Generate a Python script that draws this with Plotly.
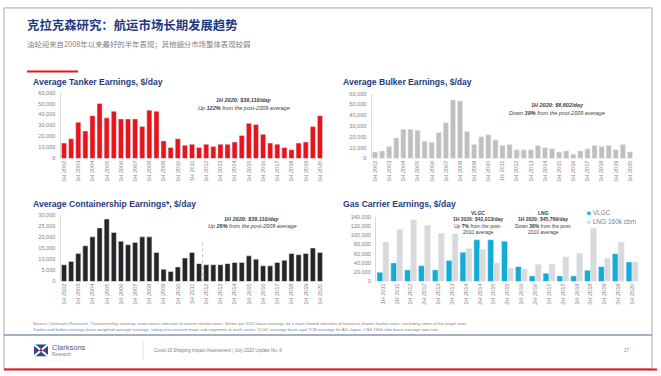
import plotly.graph_objects as go

W, H = 661, 376

# ---------------- data ----------------
half_years = [f"{h} {y}" for y in range(2002, 2021) for h in ("1H", "2H")][:-1]  # 1H 2002 .. 1H 2020
tick_half = [c for c in half_years if c.startswith("1H")]

tanker = [14000, 18000, 33000, 25000, 39000, 50000, 37000, 43000, 36000, 36000,
          36000, 29000, 44000, 43000, 16000, 10000, 18000, 12000, 13000, 10000,
          13000, 11000, 13000, 13000, 15000, 21000, 32000, 31000, 22000, 14000,
          13000, 10000, 8000, 14000, 15000, 29000, 39000]
bulker = [6000, 7000, 11000, 19000, 27000, 27000, 26000, 16000, 15000, 24000,
          33000, 54000, 53000, 25000, 13000, 20000, 22000, 17000, 12000, 13000,
          8000, 8000, 8000, 12000, 10000, 9000, 6000, 7000, 4000, 7000,
          9000, 12000, 11000, 12000, 8000, 13000, 6000]
container = [7500, 9000, 12500, 16000, 20000, 24000, 28000, 22000, 18000, 16500,
             17500, 20000, 20000, 13000, 5500, 4500, 6500, 10500, 13000, 8000,
             7500, 7500, 7500, 8000, 8500, 8500, 11500, 10000, 7000, 7000,
             8500, 9500, 12500, 12000, 12500, 15000, 13000]
gas_cats = [f"{h} {y}" for y in range(2011, 2021) for h in ("1H", "2H")][:-1]
vlgc = [20000, 40000, 25000, 34000, 25000, 45000, 63000, 90000, 90000, 87000,
        32000, 12000, 18000, 12000, 12000, 24000, 32000, 60000, 42000]
lng = [85000, 112000, 133000, 121000, 104000, 103000, 71000, 69000, 40000, 29000,
       27000, 37000, 37000, 53000, 61000, 115000, 50000, 85000, 42000]

# ---------------- styles ----------------
FONT = "Liberation Sans, Arial, sans-serif"
CJK = "Noto Sans CJK SC, sans-serif"
NAVY = "#1f3a80"
GREY = "#7f7f7f"
RED = "#e8141b"
BULK = "#bfbfbf"
BOX = "#262626"
CYAN = "#13acd6"
LNGC = "#d9d9d9"


def px(x):
    return x / W


def py(y):
    return 1 - y / H


fig = go.Figure()

fig.add_trace(go.Bar(x=half_years, y=tanker, marker_color=RED, width=0.72,
                     xaxis="x", yaxis="y", showlegend=False))
fig.add_trace(go.Bar(x=half_years, y=bulker, marker_color=BULK, width=0.72,
                     xaxis="x2", yaxis="y2", showlegend=False))
fig.add_trace(go.Bar(x=half_years, y=container, marker_color=BOX, width=0.72,
                     xaxis="x3", yaxis="y3", showlegend=False))
fig.add_trace(go.Bar(x=gas_cats, y=vlgc, marker_color=CYAN, width=0.43, offset=-0.43,
                     xaxis="x4", yaxis="y4", name="VLGC", showlegend=False))
fig.add_trace(go.Bar(x=gas_cats, y=lng, marker_color=LNGC, width=0.43, offset=0.0,
                     xaxis="x4", yaxis="y4", name="LNG 160k cbm", showlegend=False))

xtickfont = dict(family=FONT, size=5.6, color=GREY)
ytickfont = dict(family=FONT, size=5.6, color=GREY)


def xax(dom, anchor, cats, tv):
    return dict(domain=[px(dom[0]), px(dom[1])], anchor=anchor, type="category",
                categoryorder="array", categoryarray=cats,
                tickvals=tv, ticktext=tv, tickangle=-90, tickfont=xtickfont,
                showline=False, showgrid=False, ticks="", zeroline=False,
                range=[-0.5, len(cats) - 0.5], fixedrange=True)


def yax(dom, anchor, rmax, step):
    return dict(domain=[py(dom[1]), py(dom[0])], anchor=anchor, range=[0, rmax],
                tickvals=list(range(0, rmax + 1, step)), tickformat=",d",
                tickfont=ytickfont, showgrid=False, zeroline=False,
                showline=True, linecolor="#d9d9d9", linewidth=1, ticks="",
                ticklabelstandoff=3, fixedrange=True)


fig.update_layout(
    width=W, height=H, margin=dict(l=0, r=0, t=0, b=0),
    paper_bgcolor="white", plot_bgcolor="white", barmode="overlay",
    xaxis=xax((60.5, 323.5), "y", half_years, tick_half),
    yaxis=yax((91, 158), "x", 60000, 10000),
    xaxis2=xax((371.5, 633.5), "y2", half_years, tick_half),
    yaxis2=yax((92, 158), "x2", 60000, 10000),
    xaxis3=xax((60.5, 323.5), "y3", half_years, tick_half),
    yaxis3=yax((215, 283), "x3", 30000, 5000),
    xaxis4=xax((376, 639), "y4", gas_cats, gas_cats),
    yaxis4=yax((217, 283), "x4", 140000, 20000),
    font=dict(family=FONT),
)

ann = []


def txt(x, y, s, size, color=GREY, anchor="left", family=FONT):
    ann.append(dict(x=px(x), y=py(y), xref="paper", yref="paper", text=s,
                    showarrow=False, xanchor=anchor, yanchor="middle",
                    font=dict(family=family, size=size, color=color)))


# headings
txt(25, 22, "<b>克拉克森研究：航运市场长期发展趋势</b>", 12.4, NAVY, family=CJK)
txt(25, 41, "油轮迎来自2008年以来最好的半年表现；其他细分市场整体表现较弱", 7.4, GREY, family=CJK)

# chart titles
TS = 8.6
txt(31, 80, "<b>Average Tanker Earnings, $/day</b>", TS, NAVY)
txt(341, 80, "<b>Average Bulker Earnings, $/day</b>", TS, NAVY)
txt(31, 204, "<b>Average Containership Earnings*, $/day</b>", TS, NAVY)
txt(341, 204, "<b>Gas Carrier Earnings, $/day</b>", TS, NAVY)

# in-chart notes
DK = "#404040"
txt(244, 99, "<b><i>1H 2020: $39,110/day</i></b>", 5.5, DK, "center")
txt(244, 107, "<i>Up <b>122%</b> from the post-2009 average</i>", 5.5, DK, "center")
txt(557, 104, "<b><i>1H 2020: $6,602/day</i></b>", 5.5, DK, "center")
txt(557, 112, "<i>Down <b>39%</b> from the post-2009 average</i>", 5.5, DK, "center")
txt(252, 219, "<b><i>1H 2020: $39,110/day</i></b>", 5.5, DK, "center")
txt(252, 227, "<i>Up <b>26%</b> from the post-2009 average</i>", 5.5, DK, "center")

txt(478, 213, "<b>VLGC</b>", 5, DK, "center")
txt(478, 220, "<b>1H 2020: $42,013/day</b>", 5, DK, "center")
txt(478, 227, "Up <b>7%</b> from the post-", 5, DK, "center")
txt(478, 233, "2010 average", 5, DK, "center")
txt(543, 213, "<b>LNG</b>", 5, DK, "center")
txt(543, 220, "<b>1H 2020: $45,769/day</b>", 5, DK, "center")
txt(543, 227, "Down <b>38%</b> from the post-", 5, DK, "center")
txt(543, 233, "2010 average", 5, DK, "center")

# legend
txt(585, 213, f"<span style='color:{CYAN}'>■</span> VLGC", 6.5, GREY)
txt(585, 222, f"<span style='color:{LNGC}'>■</span> LNG 160k cbm", 6.5, GREY)

# source notes
txt(31, 326, "Source: Clarksons Research. *Containership earnings series basis selection of charter market sizes. Series pre 2012 basis earnings for a more limited selection of historical charter market sizes, excluding some of the larger units.", 4.3, GREY)
txt(31, 332, "Tanker and bulker earnings basis weighted average earnings, taking into account major sub-segments in each sector. VLGC earnings basis spot TCE earnings for AG-Japan. LNG 160k cbm basis average spot rate.", 4.3, GREY)

# footer
txt(50, 350, "Clarksons", 7.5, "#4a5a8a")
txt(50, 357, "Research", 4.5, GREY)
txt(152, 353, "Covid-19 Shipping Impact Assessment | July 2020 Update No. 6", 4.5, GREY)
txt(622, 353, "17", 4.5, GREY)

fig.update_layout(annotations=ann)

shapes = [
    # slide frame
    dict(type="rect", xref="paper", yref="paper", x0=px(4), x1=px(652), y0=py(372), y1=py(5),
         line=dict(color="#a6a6a6", width=1), fillcolor="rgba(0,0,0,0)", layer="below"),
    # red accent
    dict(type="line", xref="paper", yref="paper", x0=px(27), x1=px(78), y0=py(69.5), y1=py(69.5),
         line=dict(color=RED, width=2)),
    # divider
    dict(type="line", xref="paper", yref="paper", x0=px(4), x1=px(652), y0=py(337.5), y1=py(337.5),
         line=dict(color="#8497b0", width=1.5)),
    # footer separator
    dict(type="line", xref="paper", yref="paper", x0=px(143), x1=px(143), y0=py(344), y1=py(362),
         line=dict(color="#d9d9d9", width=0.8)),
    # bottom red line
    dict(type="line", xref="paper", yref="paper", x0=px(4), x1=px(657), y0=py(372.5), y1=py(372.5),
         line=dict(color=RED, width=2)),
    # logo
    dict(type="rect", xref="paper", yref="paper", x0=px(34), x1=px(48), y0=py(359), y1=py(347),
         line=dict(width=0), fillcolor="#2a4a8c"),
    dict(type="path", xref="paper", yref="paper",
         path=f"M {px(34)},{py(347)} L {px(48)},{py(359)} M {px(48)},{py(347)} L {px(34)},{py(359)}",
         line=dict(color="white", width=2)),
    dict(type="circle", xref="paper", yref="paper", x0=px(39.5), x1=px(42.5), y0=py(354.5), y1=py(351.5),
         line=dict(width=0), fillcolor=RED),
    # container pre-2012 break (dotted)
    dict(type="line", xref="x3", yref="y3", x0=19.5, x1=19.5, y0=0, y1=18000,
         line=dict(color="#bfbfbf", width=1, dash="dot")),
]
fig.update_layout(shapes=shapes)

fig.write_html("out.html")
